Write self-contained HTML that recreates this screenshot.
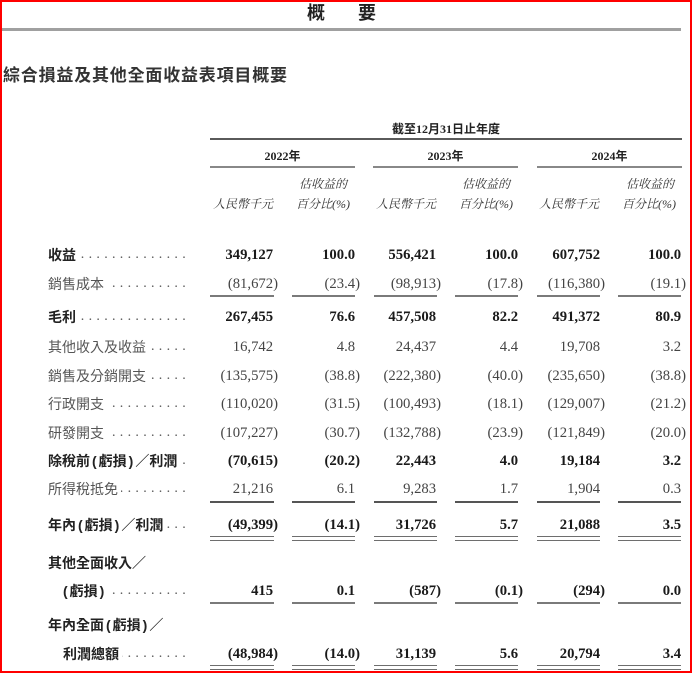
<!DOCTYPE html>
<html><head><meta charset="utf-8">
<style>
*{margin:0;padding:0;box-sizing:border-box}
html,body{width:695px;height:674px;background:#fff;overflow:hidden;position:relative}
.frame{position:absolute;left:0;top:0;width:692px;height:673px;border:2px solid #f00}
.abs{position:absolute;white-space:nowrap}
.cjk{font-family:"Liberation Sans","Noto Sans CJK TC",sans-serif}
.hdr{font-family:"Liberation Serif","Noto Sans CJK TC",serif;font-weight:700;font-size:12px;line-height:14px;color:#222}
.sub{font-family:"Liberation Serif","Noto Serif CJK SC",serif;font-style:italic;font-size:12px;line-height:14px;color:#333}
.ln{position:absolute;background:#7a7a7a;height:2px}
.dbl{position:absolute;height:5px;border-top:1.5px solid #6e6e6e;border-bottom:1.5px solid #6e6e6e}
.r{position:absolute;left:0;width:695px;height:20px;line-height:20px}
.lb{position:absolute;left:48px;width:142px;height:20px;overflow:hidden;white-space:nowrap;font-family:"Liberation Sans","Noto Sans CJK TC",sans-serif;font-size:14px;color:#555}
.lb.in{left:63px;width:127px}
.b .lb{color:#222;font-weight:700}
.lb .t{position:relative;z-index:1;background:#fff;padding-right:3px}
.lb .d{position:absolute;right:0;top:0;font-family:"Liberation Serif",serif;font-size:14px;letter-spacing:4.3px;color:#555;font-weight:400}
.pa{margin:0 2px}
.n{position:absolute;width:80px;text-align:right;font-family:"Liberation Serif",serif;font-size:14.7px;color:#444}
.b .n{color:#1a1a1a;font-weight:700}
.p{padding-right:.333em}
.c1{left:198px}.c2{left:280px}.c3{left:361px}.c4{left:443px}.c5{left:525px}.c6{left:606px}
</style></head><body>
<div class="frame"></div>

<!-- title -->
<div class="abs cjk" style="left:307px;top:3px;font-size:18px;line-height:20px;font-weight:700;color:#222">概</div>
<div class="abs cjk" style="left:358px;top:3px;font-size:18px;line-height:20px;font-weight:700;color:#222">要</div>
<div class="abs" style="left:2px;top:28px;width:679px;height:3px;background:#a0a0a0"></div>

<div class="abs cjk" style="left:3px;top:66px;font-size:17px;line-height:19px;font-weight:700;color:#333;letter-spacing:0.8px">綜合損益及其他全面收益表項目概要</div>

<!-- header -->
<div class="abs hdr" style="left:346px;width:200px;text-align:center;top:122px">截至12月31日止年度</div>
<div class="abs" style="left:210px;top:138px;width:472px;height:2px;background:#5a5a5a"></div>

<div class="abs hdr" style="left:210px;width:145px;text-align:center;top:149px">2022年</div>
<div class="abs hdr" style="left:373px;width:145px;text-align:center;top:149px">2023年</div>
<div class="abs hdr" style="left:537px;width:145px;text-align:center;top:149px">2024年</div>
<div class="abs" style="left:210px;top:166px;width:145px;height:2px;background:#888"></div>
<div class="abs" style="left:373px;top:166px;width:145px;height:2px;background:#888"></div>
<div class="abs" style="left:537px;top:166px;width:145px;height:2px;background:#888"></div>

<div class="abs sub" style="left:213px;top:197px">人民幣千元</div>
<div class="abs sub" style="left:376px;top:197px">人民幣千元</div>
<div class="abs sub" style="left:539px;top:197px">人民幣千元</div>
<div class="abs sub" style="left:247px;width:100px;text-align:right;top:177px">估收益的</div>
<div class="abs sub" style="left:410px;width:100px;text-align:right;top:177px">估收益的</div>
<div class="abs sub" style="left:574px;width:100px;text-align:right;top:177px">估收益的</div>
<div class="abs sub" style="left:250px;width:100px;text-align:right;top:197px">百分比(%)</div>
<div class="abs sub" style="left:413px;width:100px;text-align:right;top:197px">百分比(%)</div>
<div class="abs sub" style="left:576px;width:100px;text-align:right;top:197px">百分比(%)</div>

<!-- rows -->
<div class="r b" style="top:245px"><div class="lb"><span class="t">收益</span><span class="d">........................................</span></div>
<span class="n c1 p">349,127</span><span class="n c2 p">100.0</span><span class="n c3 p">556,421</span><span class="n c4 p">100.0</span><span class="n c5 p">607,752</span><span class="n c6 p">100.0</span></div>

<div class="r" style="top:274px"><div class="lb"><span class="t">銷售成本</span><span class="d">........................................</span></div>
<span class="n c1">(81,672)</span><span class="n c2">(23.4)</span><span class="n c3">(98,913)</span><span class="n c4">(17.8)</span><span class="n c5">(116,380)</span><span class="n c6">(19.1)</span></div>

<div class="ln" style="left:210px;top:295px;width:64px"></div>
<div class="ln" style="left:292px;top:295px;width:63px"></div>
<div class="ln" style="left:374px;top:295px;width:63px"></div>
<div class="ln" style="left:455px;top:295px;width:63px"></div>
<div class="ln" style="left:537px;top:295px;width:63px"></div>
<div class="ln" style="left:618px;top:295px;width:63px"></div>

<div class="r b" style="top:307px"><div class="lb"><span class="t">毛利</span><span class="d">........................................</span></div>
<span class="n c1 p">267,455</span><span class="n c2 p">76.6</span><span class="n c3 p">457,508</span><span class="n c4 p">82.2</span><span class="n c5 p">491,372</span><span class="n c6 p">80.9</span></div>

<div class="r" style="top:337px"><div class="lb"><span class="t">其他收入及收益</span><span class="d">........................................</span></div>
<span class="n c1 p">16,742</span><span class="n c2 p">4.8</span><span class="n c3 p">24,437</span><span class="n c4 p">4.4</span><span class="n c5 p">19,708</span><span class="n c6 p">3.2</span></div>

<div class="r" style="top:366px"><div class="lb"><span class="t">銷售及分銷開支</span><span class="d">........................................</span></div>
<span class="n c1">(135,575)</span><span class="n c2">(38.8)</span><span class="n c3">(222,380)</span><span class="n c4">(40.0)</span><span class="n c5">(235,650)</span><span class="n c6">(38.8)</span></div>

<div class="r" style="top:394px"><div class="lb"><span class="t">行政開支</span><span class="d">........................................</span></div>
<span class="n c1">(110,020)</span><span class="n c2">(31.5)</span><span class="n c3">(100,493)</span><span class="n c4">(18.1)</span><span class="n c5">(129,007)</span><span class="n c6">(21.2)</span></div>

<div class="r" style="top:423px"><div class="lb"><span class="t">研發開支</span><span class="d">........................................</span></div>
<span class="n c1">(107,227)</span><span class="n c2">(30.7)</span><span class="n c3">(132,788)</span><span class="n c4">(23.9)</span><span class="n c5">(121,849)</span><span class="n c6">(20.0)</span></div>

<div class="r b" style="top:451px"><div class="lb"><span class="t">除稅前<span class="pa">(</span>虧損<span class="pa">)</span>／利潤</span><span class="d">........................................</span></div>
<span class="n c1">(70,615)</span><span class="n c2">(20.2)</span><span class="n c3 p">22,443</span><span class="n c4 p">4.0</span><span class="n c5 p">19,184</span><span class="n c6 p">3.2</span></div>

<div class="r" style="top:479px"><div class="lb"><span class="t">所得稅抵免</span><span class="d">........................................</span></div>
<span class="n c1 p">21,216</span><span class="n c2 p">6.1</span><span class="n c3 p">9,283</span><span class="n c4 p">1.7</span><span class="n c5 p">1,904</span><span class="n c6 p">0.3</span></div>

<div class="ln" style="left:210px;top:501px;width:64px;background:#555"></div>
<div class="ln" style="left:292px;top:501px;width:63px;background:#555"></div>
<div class="ln" style="left:374px;top:501px;width:63px;background:#555"></div>
<div class="ln" style="left:455px;top:501px;width:63px;background:#555"></div>
<div class="ln" style="left:537px;top:501px;width:63px;background:#555"></div>
<div class="ln" style="left:618px;top:501px;width:63px;background:#555"></div>

<div class="r b" style="top:515px"><div class="lb"><span class="t">年內<span class="pa">(</span>虧損<span class="pa">)</span>／利潤</span><span class="d">........................................</span></div>
<span class="n c1">(49,399)</span><span class="n c2">(14.1)</span><span class="n c3 p">31,726</span><span class="n c4 p">5.7</span><span class="n c5 p">21,088</span><span class="n c6 p">3.5</span></div>

<div class="dbl" style="left:210px;top:536px;width:64px"></div>
<div class="dbl" style="left:292px;top:536px;width:63px"></div>
<div class="dbl" style="left:374px;top:536px;width:63px"></div>
<div class="dbl" style="left:455px;top:536px;width:63px"></div>
<div class="dbl" style="left:537px;top:536px;width:63px"></div>
<div class="dbl" style="left:618px;top:536px;width:63px"></div>

<div class="r b" style="top:553px"><div class="lb"><span class="t">其他全面收入／</span></div></div>

<div class="r b" style="top:581px"><div class="lb in"><span class="t"><span class="pa" style="margin-left:0">(</span>虧損<span class="pa">)</span></span><span class="d">........................................</span></div>
<span class="n c1 p">415</span><span class="n c2 p">0.1</span><span class="n c3">(587)</span><span class="n c4">(0.1)</span><span class="n c5">(294)</span><span class="n c6 p">0.0</span></div>

<div class="ln" style="left:210px;top:602px;width:64px"></div>
<div class="ln" style="left:292px;top:602px;width:63px"></div>
<div class="ln" style="left:374px;top:602px;width:63px"></div>
<div class="ln" style="left:455px;top:602px;width:63px"></div>
<div class="ln" style="left:537px;top:602px;width:63px"></div>
<div class="ln" style="left:618px;top:602px;width:63px"></div>

<div class="r b" style="top:615px"><div class="lb"><span class="t">年內全面<span class="pa">(</span>虧損<span class="pa">)</span>／</span></div></div>

<div class="r b" style="top:644px"><div class="lb in"><span class="t">利潤總額</span><span class="d">........................................</span></div>
<span class="n c1">(48,984)</span><span class="n c2">(14.0)</span><span class="n c3 p">31,139</span><span class="n c4 p">5.6</span><span class="n c5 p">20,794</span><span class="n c6 p">3.4</span></div>

<div class="dbl" style="left:210px;top:665px;width:64px"></div>
<div class="dbl" style="left:292px;top:665px;width:63px"></div>
<div class="dbl" style="left:374px;top:665px;width:63px"></div>
<div class="dbl" style="left:455px;top:665px;width:63px"></div>
<div class="dbl" style="left:537px;top:665px;width:63px"></div>
<div class="dbl" style="left:618px;top:665px;width:63px"></div>

</body></html>
